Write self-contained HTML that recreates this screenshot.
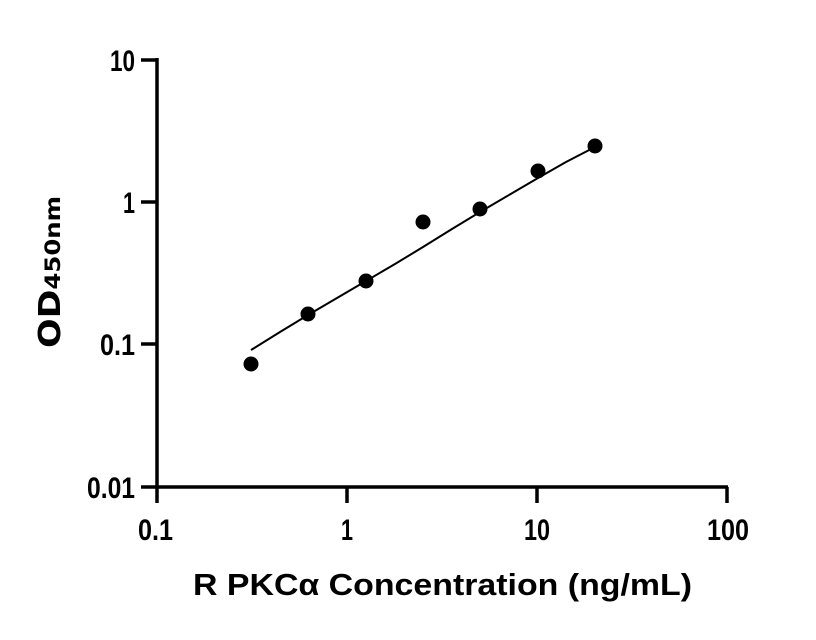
<!DOCTYPE html>
<html><head><meta charset="utf-8"><style>html,body{margin:0;padding:0;background:#fff}svg{display:block}</style></head>
<body>
<svg width="816" height="640" viewBox="0 0 816 640" xmlns="http://www.w3.org/2000/svg">
<g stroke="#000" stroke-width="3.5" fill="none" stroke-linecap="butt">
<line x1="157" y1="58" x2="157" y2="503"/>
<line x1="141" y1="487" x2="728" y2="487"/>
<line x1="141" y1="60" x2="157" y2="60"/>
<line x1="141" y1="202" x2="157" y2="202"/>
<line x1="141" y1="344" x2="157" y2="344"/>
<line x1="347" y1="487" x2="347" y2="503"/>
<line x1="537" y1="487" x2="537" y2="503"/>
<line x1="727" y1="487" x2="727" y2="503"/>
</g>
<g font-family="Liberation Sans, sans-serif" font-weight="bold" font-size="30" fill="#000" lengthAdjust="spacingAndGlyphs">
<text x="110" y="71" textLength="25" lengthAdjust="spacingAndGlyphs">10</text>
<text x="123" y="213" textLength="12" lengthAdjust="spacingAndGlyphs">1</text>
<text x="100" y="355" textLength="35" lengthAdjust="spacingAndGlyphs">0.1</text>
<text x="87" y="498" textLength="48" lengthAdjust="spacingAndGlyphs">0.01</text>
<text x="138" y="540" textLength="35" lengthAdjust="spacingAndGlyphs">0.1</text>
<text x="341" y="540" textLength="12" lengthAdjust="spacingAndGlyphs">1</text>
<text x="524" y="540" textLength="26" lengthAdjust="spacingAndGlyphs">10</text>
<text x="707" y="540" textLength="42" lengthAdjust="spacingAndGlyphs">100</text>
</g>
<polyline fill="none" stroke="#000" stroke-width="2" points="251,350 280,332 308,315 337,298 366,281 395,264 423,247 452,229 480,212 509,195 538,178 566,162 595,147"/>
<g fill="#000">
<circle cx="251" cy="364" r="7.5"/>
<circle cx="308" cy="314" r="7.5"/>
<circle cx="366" cy="281" r="7.5"/>
<circle cx="423" cy="222" r="7.5"/>
<circle cx="480" cy="209" r="7.5"/>
<circle cx="538" cy="171" r="7.5"/>
<circle cx="595" cy="146" r="7.5"/>
</g>
<text x="193" y="595" font-family="Liberation Sans, sans-serif" font-weight="bold" font-size="31" textLength="499" lengthAdjust="spacingAndGlyphs">R PKCα Concentration (ng/mL)</text>
<g transform="translate(60,348) rotate(-90)">
<text x="0" y="0" font-family="DejaVu Sans, Liberation Sans, sans-serif" font-weight="bold" font-size="30" textLength="152" lengthAdjust="spacingAndGlyphs">OD<tspan font-size="21" font-weight="bold">450nm</tspan></text>
</g>
</svg>
</body></html>
